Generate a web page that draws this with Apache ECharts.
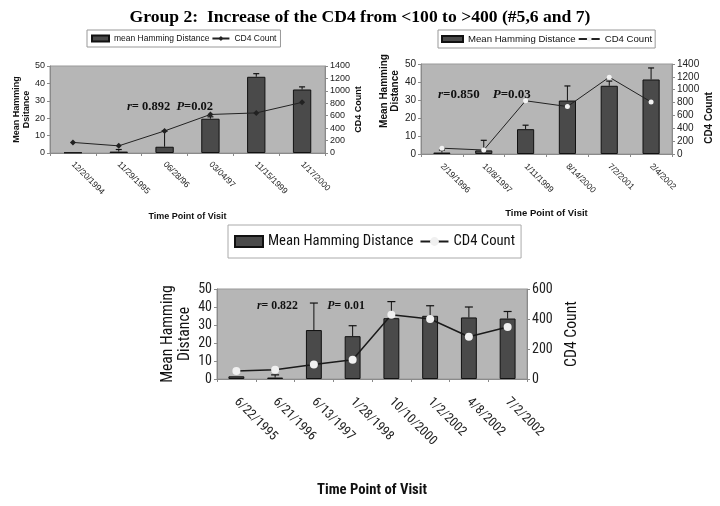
<!DOCTYPE html>
<html>
<head>
<meta charset="utf-8">
<script src="https://cdn.jsdelivr.net/npm/echarts@6/dist/echarts.min.js"></script>
<style>
html,body{margin:0;padding:0;background:#fff;}
#chart{width:720px;height:506px;}
</style>
</head>
<body>
<div id="chart"></div>
<script>
// ---------- DATA ----------
const titleText = 'Group 2:  Increase of the CD4 from <100 to >400 (#5,6 and 7)';

// Panel 1 (top-left)
const c1Dates = ['12/20/1994', '11/29/1995', '06/28/96', '03/04/97', '11/15/1999', '1/17/2000'];
const c1Hamming = [0.3, 0.8, 3.6, 19.7, 43.8, 36.5];
const c1HammingErrTop = [0.3, 2.0, 12.6, 20.8, 45.6, 38.0];
const c1Cd4 = [170, 115, 355, 620, 645, 815];

// Panel 2 (top-right)
const c2Dates = ['2/19/1996', '10/8/1997', '1/11/1999', '8/14/2000', '7/2/2001', '2/4/2002'];
const c2Hamming = [0.8, 2.0, 13.8, 29.7, 37.9, 41.4];
const c2HammingErrTop = [2.2, 7.6, 16.0, 37.8, 40.5, 47.8];
const c2Cd4 = [90, 62, 828, 738, 1195, 810];

// Panel 3 (bottom)
const c3Dates = ['6/22/1995', '6/21/1996', '6/13/1997', '1/28/1998', '10/10/2000', '1/2/2002', '4/8/2002', '7/2/2002'];
const c3Hamming = [1.5, 0.8, 27.2, 23.8, 33.8, 35.1, 34.2, 33.6];
const c3HammingErrTop = [1.5, 2.3, 42.2, 29.6, 43.0, 40.7, 40.0, 37.5];
const c3Cd4 = [53, 62, 96, 129, 428, 400, 282, 347];

// Axis scales (tick labels)
const hammingAxis = {min: 0, max: 50, interval: 10};
const cd4AxisTop = {min: 0, max: 1400, interval: 200};
const cd4AxisBottom = {min: 0, max: 600, interval: 200};

// Legend / annotation texts
const legendNames = {
  hd1: 'mean Hamming Distance', cd1: 'CD4 Count',
  hd2: 'Mean Hamming Distance', cd2: 'CD4 Count',
  hd3: 'Mean Hamming Distance', cd3: 'CD4 Count'
};
const stats1 = ['r', '= 0.892  ', 'P', '=0.02'];
const stats2 = ['r', '=0.850    ', 'P', '=0.03'];
const stats3 = ['r', '= 0.822          ', 'P', '= 0.01'];

// ---------- FONTS ----------
const SANS = 'Liberation Sans, Arial, sans-serif';
const SERIF = 'Liberation Serif, Times New Roman, serif';
function fontAvailable(name) {
  const c = document.createElement('canvas').getContext('2d');
  const s = 'Mean Hamming Distance 0123456789';
  c.font = '20px monospace'; const a = c.measureText(s).width;
  c.font = '20px "' + name + '", monospace'; const b = c.measureText(s).width;
  c.font = '20px serif'; const d = c.measureText(s).width;
  c.font = '20px "' + name + '", serif'; const e = c.measureText(s).width;
  return a !== b && d !== e;
}
const narrowCandidates = ['Liberation Sans Narrow', 'Arial Narrow', 'Roboto Condensed', 'Open Sans Condensed', 'Noto Sans Condensed', 'DejaVu Sans Condensed'];
let NARROW_NAME = 'Liberation Sans';
for (const f of narrowCandidates) { if (fontAvailable(f)) { NARROW_NAME = f; break; } }
const NARROW = '"' + NARROW_NAME + '", Liberation Sans, sans-serif';
const measureCtx = document.createElement('canvas').getContext('2d');
measureCtx.font = '17px ' + NARROW;
const narrowScale = Math.min(1, 146 / measureCtx.measureText('Mean Hamming Distance').width);
const BIG = Math.round(17 * narrowScale * 10) / 10;

// ---------- STYLE ----------
const PLOT_BG = '#b6b6b6';
const BAR = '#4a4a4a';
const AXIS = '#8a8a8a';

function errSeries(name, xi, yi, vals, tops, cap) {
  return {
    name: name, type: 'custom', xAxisIndex: xi, yAxisIndex: yi, z: 3,
    silent: true,
    data: vals.map((v, i) => [i, v, tops[i]]),
    renderItem: function (params, api) {
      const a = api.coord([api.value(0), api.value(1)]);
      const b = api.coord([api.value(0), api.value(2)]);
      if (Math.abs(a[1] - b[1]) < 0.5) return {type: 'group', children: []};
      return {
        type: 'group',
        children: [
          {type: 'line', shape: {x1: a[0], y1: a[1], x2: b[0], y2: b[1]}, style: {stroke: '#111', lineWidth: 1}},
          {type: 'line', shape: {x1: b[0] - cap / 2, y1: b[1], x2: b[0] + cap / 2, y2: b[1]}, style: {stroke: '#111', lineWidth: 1.2}}
        ]
      };
    }
  };
}

function xAxisCfg(gi, data, fs, fam, margin, nameGap, nameFs, nameFam) {
  return {
    type: 'category', gridIndex: gi, data: data,
    axisLine: {show: true, lineStyle: {color: AXIS}},
    axisTick: {show: true, length: 3, lineStyle: {color: AXIS}},
    axisLabel: {rotate: -45, interval: 0, fontSize: fs, fontFamily: fam, color: '#222', margin: margin},
    splitLine: {show: false},
    name: 'Time Point of Visit', nameLocation: 'middle', nameGap: nameGap,
    nameTextStyle: {fontSize: nameFs, fontFamily: nameFam, fontWeight: 'bold', color: '#111', verticalAlign: 'top'}
  };
}

function yAxisCfg(gi, pos, scale, fs, fam, name, nameGap, nameFs, nameFam, nameWeight, namePad) {
  return {
    type: 'value', gridIndex: gi, position: pos,
    min: scale.min, max: scale.max, interval: scale.interval,
    axisLine: {show: true, lineStyle: {color: AXIS}},
    axisTick: {show: true, length: 3, lineStyle: {color: AXIS}},
    axisLabel: {fontSize: fs, fontFamily: fam, color: '#222', margin: 5, formatter: v => String(v)},
    splitLine: {show: false},
    name: name, nameLocation: 'middle', nameGap: nameGap, nameRotate: 90,
    nameTextStyle: {fontSize: nameFs, fontFamily: nameFam, fontWeight: nameWeight, color: '#111',
      lineHeight: nameFs * 1.1, align: 'center', padding: namePad || 0}
  };
}

function statText(x, y, parts, fs) {
  return {
    type: 'text', x: x, y: y,
    style: {
      text: '{i|' + parts[0] + '}{b|' + parts[1] + '}{i|' + parts[2] + '}{b|' + parts[3] + '}',
      rich: {
        i: {fontFamily: SERIF, fontStyle: 'italic', fontWeight: 'bold', fontSize: fs, fill: '#111'},
        b: {fontFamily: SERIF, fontWeight: 'bold', fontSize: fs, fill: '#111'}
      },
      verticalAlign: 'middle'
    }
  };
}

const chart = echarts.init(document.getElementById('chart'), null, {renderer: 'canvas'});

const option = {
  animation: false,
  backgroundColor: '#fff',
  title: {
    text: titleText, left: 'center', top: 3,
    textStyle: {fontFamily: SERIF, fontWeight: 'bold', fontSize: 17.6, color: '#000'}
  },
  legend: [
    {
      left: 87, top: 30, padding: [4, 4], itemGap: 2, itemWidth: 17, itemHeight: 6,
      backgroundColor: '#fff', borderColor: '#999', borderWidth: 1, borderRadius: 0,
      textStyle: {fontSize: 8.5, fontFamily: SANS, color: '#111'},
      formatter: n => legendNames[n],
      data: [{name: 'hd1', icon: 'rect'}, {name: 'cd1'}]
    },
    {
      left: 438, top: 30, padding: [4, 3], itemGap: 2, itemWidth: 21, itemHeight: 6,
      backgroundColor: '#fff', borderColor: '#999', borderWidth: 1, borderRadius: 0,
      textStyle: {fontSize: 9.6, fontFamily: SANS, color: '#111'},
      formatter: n => legendNames[n],
      data: [{name: 'hd2', icon: 'rect'}, {name: 'cd2'}]
    },
    {
      left: 228, top: 225, padding: [9, 6], itemGap: 6, itemWidth: 28, itemHeight: 11,
      backgroundColor: '#fff', borderColor: '#aaa', borderWidth: 1, borderRadius: 0,
      textStyle: {fontSize: BIG, fontFamily: NARROW, color: '#111'},
      formatter: n => legendNames[n],
      data: [{name: 'hd3', icon: 'rect'}, {name: 'cd3'}]
    }
  ],
  grid: [
    {left: 50, top: 66, width: 275, height: 87, show: true, backgroundColor: PLOT_BG, borderColor: '#999', borderWidth: 1, containLabel: false, outerBoundsMode: 'none'},
    {left: 421, top: 64, width: 251, height: 90, show: true, backgroundColor: PLOT_BG, borderColor: '#999', borderWidth: 1, containLabel: false, outerBoundsMode: 'none'},
    {left: 217, top: 289, width: 310, height: 90, show: true, backgroundColor: PLOT_BG, borderColor: '#999', borderWidth: 1, containLabel: false, outerBoundsMode: 'none'}
  ],
  xAxis: [
    xAxisCfg(0, c1Dates, 8.5, SANS, 10, 59, 9, SANS),
    xAxisCfg(1, c2Dates, 8.5, SANS, 11, 54, 9.5, SANS),
    xAxisCfg(2, c3Dates, 13, NARROW, 21, 104, Math.max(13.5, BIG), NARROW)
  ],
  yAxis: [
    yAxisCfg(0, 'left', hammingAxis, 9, SANS, 'Mean Hamming\nDsitance', 17, 9, SANS, 'bold'),
    yAxisCfg(0, 'right', cd4AxisTop, 9, SANS, 'CD4 Count', 27, 9, SANS, 'bold'),
    yAxisCfg(1, 'left', hammingAxis, 10, SANS, 'Mean Hamming\nDistance', 17, 10, SANS, 'bold', [0, 0, 0, 36]),
    yAxisCfg(1, 'right', cd4AxisTop, 10, SANS, 'CD4 Count', 32, 10, SANS, 'bold', [0, 18, 0, 0]),
    yAxisCfg(2, 'left', hammingAxis, 14, NARROW, 'Mean Hamming\nDistance', 23, BIG + 1, NARROW, 'normal'),
    yAxisCfg(2, 'right', cd4AxisBottom, 14, NARROW, 'CD4 Count', 36, BIG + 1, NARROW, 'normal')
  ],
  series: [
    {name: 'hd1', type: 'bar', xAxisIndex: 0, yAxisIndex: 0, data: c1Hamming, barWidth: '40%', z: 2,
      itemStyle: {color: BAR, borderColor: '#111', borderWidth: 1}},
    errSeries('hd1', 0, 0, c1Hamming, c1HammingErrTop, 6),
    {name: 'cd1', type: 'line', xAxisIndex: 0, yAxisIndex: 1, data: c1Cd4, z: 4,
      symbol: 'diamond', symbolSize: 6, lineStyle: {color: '#222', width: 1},
      itemStyle: {color: '#222'}},

    {name: 'hd2', type: 'bar', xAxisIndex: 1, yAxisIndex: 2, data: c2Hamming, barWidth: '41%', z: 2,
      itemStyle: {color: BAR, borderColor: '#111', borderWidth: 1}},
    errSeries('hd2', 1, 2, c2Hamming, c2HammingErrTop, 6),
    {name: 'cd2', type: 'line', xAxisIndex: 1, yAxisIndex: 3, data: c2Cd4, z: 4,
      symbol: 'circle', symbolSize: 5, showAllSymbol: true, lineStyle: {color: '#222', width: 1},
      itemStyle: {color: '#f2f2f2', borderWidth: 0}},

    {name: 'hd3', type: 'bar', xAxisIndex: 2, yAxisIndex: 4, data: c3Hamming, barWidth: '41%', z: 2,
      itemStyle: {color: BAR, borderColor: '#111', borderWidth: 1}},
    errSeries('hd3', 2, 4, c3Hamming, c3HammingErrTop, 8),
    {name: 'cd3', type: 'line', xAxisIndex: 2, yAxisIndex: 5, data: c3Cd4, z: 4,
      symbol: 'circle', symbolSize: 8, showAllSymbol: true, lineStyle: {color: '#1a1a1a', width: 1.5},
      itemStyle: {color: '#f0f0f0', borderWidth: 0}}
  ],
  graphic: [
    statText(127, 107, stats1, 12.5),
    statText(438, 95, stats2, 13),
    statText(257, 306, stats3, 11.8)
  ]
};

chart.setOption(option);
</script>
</body>
</html>
